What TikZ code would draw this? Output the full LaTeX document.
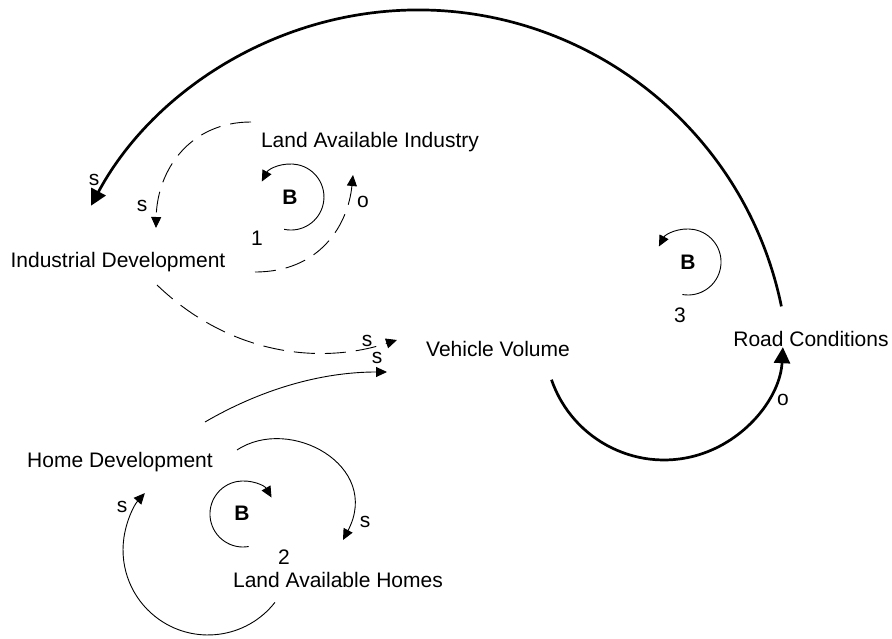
\documentclass[tikz,border=0pt]{standalone}
\usepackage{fontspec}
\setmainfont{Liberation Sans}
\usetikzlibrary{arrows.meta}
\begin{document}
\begin{tikzpicture}[x=1pt,y=1pt,
  lbl/.style={font=\fontsize{21}{25}\selectfont, inner sep=0pt},
  var/.style={lbl, anchor=base},
  loopB/.style={inner sep=0pt, font=\fontsize{21}{25}\selectfont\bfseries},
  link/.style={line width=0.9pt, -{Triangle[length=11pt,width=10pt]}},
  dlink/.style={link, dash pattern=on 21pt off 10pt},
  tlink/.style={line width=2.7pt, -{Triangle[length=16pt,width=16pt]}}
]
\useasboundingbox (0,0) rectangle (892,638);

% variables
\node[var] (lai) at (370,490) {Land Available Industry};
\node[var] (id)  at (118,370) {Industrial Development};
\node[var] (vv)  at (498,281) {Vehicle Volume};
\node[var] (rc)  at (811,291) {Road Conditions};
\node[var] (hd)  at (120,171) {Home Development};
\node[var] (lah) at (338,51)  {Land Available Homes};

% loop markers
\node[loopB] (b1) at (290,441) {B};
\node[lbl]   (n1) at (257,400) {1};
\node[loopB] (b2) at (242,125) {B};
\node[lbl]   (n2) at (284,81)  {2};
\node[loopB] (b3) at (688,376) {B};
\node[lbl]   (n3) at (680,323) {3};

% polarity labels
\node[lbl] (s1) at (94,458)  {s};
\node[lbl] (s2) at (142,432) {s};
\node[lbl] (o1) at (363,436) {o};
\node[lbl] (s3) at (367,297) {s};
\node[lbl] (s4) at (377,280) {s};
\node[lbl] (s5) at (365,116) {s};
\node[lbl] (s6) at (122,131) {s};
\node[lbl] (o2) at (783,238) {o};

% connector end points
\coordinate (rcTop)  at (781.4,331.6);
\coordinate (vvBot)  at (551.5,258.3);
\coordinate (idR)    at (255,366);
\coordinate (laiUp)  at (353,463);
\coordinate (laiL)   at (251,516);
\coordinate (idTop)  at (156,410);
\coordinate (idBot)  at (157,353);
\coordinate (vvL1)   at (397,298);
\coordinate (hdTop)  at (205,216);
\coordinate (vvL2)   at (387,266);
\coordinate (hdR)    at (237,188);
\coordinate (lahTop) at (343,98);
\coordinate (lahBot) at (275,35.7);
\coordinate (l1s)    at (284.1,408.7);
\coordinate (l2s)    at (248.7,91.5);
\coordinate (l3s)    at (682.3,343.5);

% Road Conditions -> Industrial Development
\draw[tlink] (rcTop) arc[start angle=11.6, end angle=151.8, radius=371];
% Vehicle Volume -> Road Conditions
\draw[tlink] (vvBot) arc[start angle=-161, end angle=-3, radius=119];

% loop 1
\draw[dlink] (idR) .. controls (320,366) and (348,413) .. (laiUp);
\draw[dlink] (laiL) .. controls (190,516) and (157,468) .. (idTop);
\draw[link] (l1s) arc[start angle=-102, end angle=152, radius=33];

% to Vehicle Volume
\draw[dlink] (idBot) .. controls (230,283) and (320,273) .. (vvL1);
\draw[link] (hdTop) .. controls (260,248) and (320,266) .. (vvL2);

% loop 2
\draw[link] (hdR) .. controls (290,223) and (382,172) .. (lahTop);
\draw[link] (lahBot) arc[start angle=-38, end angle=-222, radius=85];
\draw[link] (l2s) arc[start angle=-80, end angle=-330, radius=33];

% loop 3
\draw[link] (l3s) arc[start angle=-100, end angle=152, radius=33];
\end{tikzpicture}
\end{document}
